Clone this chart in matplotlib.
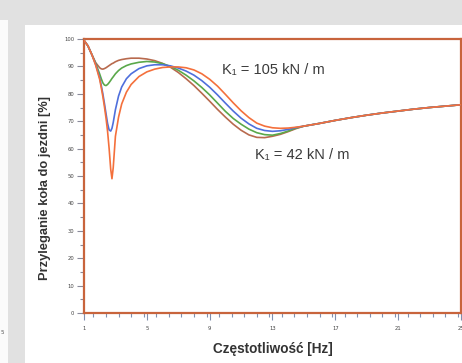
import matplotlib.pyplot as plt
from matplotlib.patches import Rectangle
from matplotlib.ticker import MultipleLocator

# frequency grid [Hz]
freq = [1, 1.25, 1.5, 1.75, 2.0, 2.1, 2.2, 2.3, 2.4, 2.5, 2.6, 2.7, 2.78, 2.86,
        3.0, 3.2, 3.4, 3.7, 4.0, 4.5, 5, 5.5, 6, 6.5, 7, 7.5, 8, 8.5, 9, 9.5,
        10, 10.5, 11, 11.5, 12, 12.5, 13, 13.5, 14, 14.5, 15,
        16, 17, 18, 19, 20, 21, 22, 23, 24, 25]

tail = [68.2, 69.2, 70.3, 71.3, 72.2, 73.0, 73.7, 74.4, 75.0, 75.5, 76.0]

# K1 = 105 kN/m
k_105 = [99.5, 97.5, 94.3, 90.3, 85.2, 82.2, 79.0, 75.3, 71.2, 66.3, 60.0, 52.5, 49.0, 53.0,
         64.5, 71.5, 76.3, 80.6, 83.4, 86.3, 88.0, 89.0, 89.6, 89.8, 89.8, 89.5, 88.7, 87.3, 85.3, 82.8,
         79.8, 76.7, 73.8, 71.3, 69.3, 68.2, 67.6, 67.4, 67.5, 67.8] + tail
k_84 = [99.5, 97.5, 94.3, 90.6, 85.8, 83.0, 80.0, 76.5, 72.8, 69.2, 66.8, 66.4, 67.4, 69.5,
        74.2, 79.2, 82.5, 85.5, 87.3, 89.2, 90.2, 90.6, 90.6, 90.2, 89.4, 88.3, 86.8, 84.8, 82.4, 79.6,
        76.6, 73.7, 71.1, 69.0, 67.4, 66.6, 66.3, 66.5, 67.0, 67.7] + tail
k_63 = [99.5, 97.5, 94.3, 91.0, 87.2, 85.5, 84.0, 83.2, 83.0, 83.4, 84.1, 84.9, 85.6, 86.2,
        87.3, 88.5, 89.4, 90.3, 90.9, 91.5, 91.8, 91.6, 91.0, 90.0, 88.6, 86.8, 84.7, 82.3, 79.6, 76.6,
        73.6, 71.0, 68.9, 67.1, 65.8, 65.1, 64.9, 65.5, 66.4, 67.5] + tail
# K1 = 42 kN/m
k_42 = [99.5, 97.5, 94.3, 91.3, 89.5, 89.1, 89.0, 89.2, 89.5, 89.9, 90.3, 90.7, 91.0, 91.2,
        91.7, 92.2, 92.5, 92.8, 93.0, 93.0, 92.7, 92.1, 91.1, 89.7, 87.8, 85.5, 83.0, 80.2, 77.3, 74.3,
        71.5, 68.9, 66.7, 65.0, 64.1, 64.0, 64.5, 65.2, 66.2, 67.3] + tail

series = [k_42, k_63, k_84, k_105]
colors = ['#b86a4e', '#5aa84a', '#4f6fdc', '#f4703c']

x_ticks = [1, 5, 9, 13, 17, 21, 25]
y_ticks = [0, 10, 20, 30, 40, 50, 60, 70, 80, 90, 100]

dpi = 100
fig = plt.figure(dpi=dpi, figsize=(462 / dpi, 363 / dpi))
fig.patch.set_facecolor('#e1e1e1')
fig.patches.append(Rectangle((25 / 462, 0), 1, 1 - 25 / 363, transform=fig.transFigure,
                             facecolor='white', edgecolor='none', zorder=-2))
fig.patches.append(Rectangle((0, 0), 8 / 462, 1 - 20 / 363, transform=fig.transFigure,
                             facecolor='#fbfbfb', edgecolor='none', zorder=-2))
fig.text(1 / 462, 1 - 332 / 363, '5', fontsize=4, color='#555555', ha='left', va='center')

ax = fig.add_axes([84 / 462, 1 - 313 / 363, 377 / 462, 274 / 363])
ax.set_facecolor('white')

for vals, c in zip(series, colors):
    ax.plot(freq, vals, color=c, lw=1.2, zorder=3)

ax.set_xlim(1, 25)
ax.set_ylim(0, 100)
ax.set_xticks(x_ticks)
ax.set_yticks(y_ticks)
ax.xaxis.set_minor_locator(MultipleLocator(0.8))
ax.yaxis.set_minor_locator(MultipleLocator(5))

for side in ['left', 'right', 'top', 'bottom']:
    ax.spines[side].set_color('#c8643c')
    ax.spines[side].set_linewidth(1.6)

ax.tick_params(axis='both', which='both', direction='out', labelsize=3.8,
               labelcolor='#444444', color='#8a8a9a')
ax.tick_params(axis='both', which='major', length=5, width=0.8)
ax.tick_params(axis='both', which='minor', length=3, width=0.8)
ax.tick_params(axis='x', which='both', color='#8090b0', pad=4)
ax.tick_params(axis='y', which='both', pad=2)

font = ['Liberation Sans', 'DejaVu Sans']
ax.set_xlabel('Częstotliwość [Hz]', fontsize=9.8, fontweight='bold', family=font,
              color='#333333', labelpad=8)
ax.set_ylabel('Przyleganie koła do jezdni [%]', fontsize=9.3, fontweight='bold', family=font,
              color='#333333')
ax.yaxis.set_label_coords(-0.088, 0.456)

ax.text(222, 363 - 70, 'K₁ = 105 kN / m', transform=None, fontsize=10.5, family=font,
        color='#3a3a3a', ha='left', va='center')
ax.text(255, 363 - 155, 'K₁ = 42 kN / m', transform=None, fontsize=10.5, family=font,
        color='#3a3a3a', ha='left', va='center')

fig.savefig('out.png', dpi=dpi, facecolor=fig.get_facecolor())
